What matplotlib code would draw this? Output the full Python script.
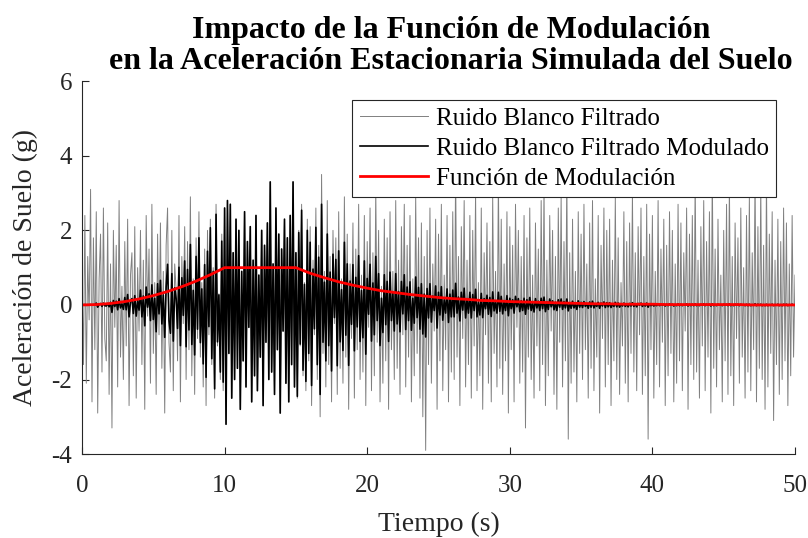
#!/usr/bin/env python3
"""
Filtered white noise vs. modulated noise with the modulation envelope.
"""

import numpy as np
import matplotlib

matplotlib.use("Agg")
import matplotlib.pyplot as plt

# sampling step of the noise records (s)
dt = 0.1

# filtered white noise (g), 10 samples per second
ruido_filtrado = [
    0.9, -1.6, 2.4, -2.1, 1.3, -0.4, 3.1, -2.6, 1.8, -1.2,
    2.5, -2.9, 0.7, 1.9, -1.8, 2.6, -0.9, -1.5, 2.2, -2.4,
    1.1, -3.3, 2.0, -0.6, 1.6, -2.2, 2.8, -1.4, 0.5, -2.0,
    1.7, -1.1, 2.3, -2.7, 0.8, 1.4, -1.9, 2.1, -2.5, 1.0,
    -0.7, 2.0, -1.6, 1.2, -2.8, 2.4, -0.3, 1.5, -2.1, 2.7,
    -1.3, 0.6, -2.4, 1.9, -0.8, 2.2, -1.7, 0.9, -2.9, 1.6,
    2.6, -1.0, -1.8, 2.0, -2.3, 1.1, 0.4, -1.5, 2.4, -2.6,
    1.3, -0.5, 2.1, -2.0, 1.7, -1.2, 2.9, -1.9, 0.7, -2.4,
    1.8, -0.9, 2.5, -1.4, 0.6, -2.2, 1.5, -2.7, 2.0, -0.8,
    2.3, -1.6, 1.0, -2.5, 2.7, -1.1, 0.3, -2.0, 1.9, -2.3,
    2.6, -3.2, 2.8, -1.3, 2.7, -2.5, 1.4, -2.0, 2.3, -1.7,
    2.0, -2.8, 0.9, -1.5, 2.5, -2.2, 1.7, -0.6, 2.1, -2.6,
    1.2, -1.9, 2.4, -2.3, 0.8, -1.4, 2.0, -2.7, 1.6, -1.0,
    2.2, -2.0, 3.3, -1.8, 1.1, -2.4, 2.6, -1.2, 1.9, -2.9,
    1.5, -0.7, 2.3, -2.1, 1.8, -2.6, 2.4, -1.6, 3.3, -2.2,
    1.4, -2.5, 2.0, -1.1, 2.7, -1.9, 0.6, -2.3, 2.3, -1.5,
    2.1, -2.7, 1.2, -0.8, 2.6, -2.0, 1.6, -3.0, 3.5, -1.3,
    0.9, -2.2, 2.8, -1.6, 1.3, -2.6, 2.0, -0.5, 1.8, -2.4,
    2.5, -1.7, 0.7, -2.1, 2.9, -1.4, 1.9, -2.8, 1.1, -0.9,
    2.2, -2.5, 1.5, -1.2, 2.7, -2.0, 0.8, -1.8, 2.4, -2.7,
    1.7, -0.6, 2.6, -2.3, 1.4, -1.9, 3.1, -1.0, 2.0, -2.6,
    0.5, -2.1, 2.3, -1.5, 1.8, -2.8, 2.5, -1.2, 0.9, -2.0,
    2.8, -1.7, 1.2, -2.4, 2.1, -0.8, 2.7, -2.2, 1.6, -1.4,
    2.4, -2.6, 0.7, -1.9, 2.9, -1.3, 1.8, -2.5, 2.2, -3.0,
    1.3, -3.9, 2.0, -1.6, 2.6, -2.1, 1.1, -0.7, 2.3, -2.8,
    1.9, -1.5, 2.7, -2.3, 0.8, -1.2, 2.4, -2.6, 1.6, -1.8,
    2.5, -2.0, 3.6, -1.4, 1.3, -2.7, 2.1, -0.9, 2.8, -2.2,
    1.2, -1.6, 2.4, -2.5, 2.0, -1.1, 3.0, -2.3, 0.6, -1.9,
    2.6, -2.8, 1.4, -0.8, 2.2, -2.1, 1.7, -2.6, 2.9, -1.3,
    0.9, -2.2, 3.4, -1.7, 2.3, -2.4, 1.1, -1.5, 2.5, -2.9,
    2.1, -1.2, 1.6, -2.6, 2.7, -0.6, 2.0, -2.1, 1.3, -1.8,
    2.4, -3.3, 1.8, -1.4, 2.6, -2.0, 0.8, -2.5, 2.2, -1.1,
    1.5, -2.3, 2.8, -1.6, 3.2, -2.7, 1.2, -1.9, 2.4, -0.7,
    2.0, -2.4, 1.3, -2.8, 2.6, -1.0, 2.9, -2.2, 1.7, -1.5,
    3.5, -3.6, 1.4, -2.1, 2.3, -1.8, 0.9, -2.6, 2.5, -1.3,
    1.9, -2.0, 2.7, -1.2, 1.1, -2.5, 2.2, -1.7, 2.8, -2.3,
    0.7, -1.4, 2.4, -2.9, 1.6, -0.9, 2.6, -2.2, 2.0, -1.6,
    2.3, -2.7, 1.2, -1.5, 2.9, -2.0, 1.8, -2.4, 0.6, -1.1,
    2.5, -2.1, 1.7, -2.6, 2.2, -1.3, 3.0, -1.8, 1.4, -2.3,
    2.1, -0.8, 2.6, -2.4, 1.3, -1.9, 2.7, -3.6, 1.9, -1.2,
    2.4, -2.5, 0.9, -1.6, 2.8, -2.2, 1.5, -1.0, 2.3, -2.7,
    1.6, -1.9, 2.5, -1.3, 2.0, -2.6, 1.1, -2.1, 2.7, -1.5,
    2.2, -2.3, 1.4, -0.7, 2.6, -2.8, 1.9, -1.6, 2.4, -2.0,
    3.4, -1.8, 1.2, -2.5, 2.1, -1.1, 2.8, -2.3, 1.7, -1.4,
    2.5, -2.9, 3.6, -1.7, 1.5, -2.2, 2.3, -1.2, 0.8, -2.6,
    2.0, -1.5, 2.7, -2.4, 3.3, -1.9, 1.3, -2.7, 2.2, -0.9,
    1.8, -2.1, 2.6, -1.4, 1.0, -2.5, 2.4, -1.8, 2.9, -2.3,
    1.4, -1.2, 3.5, -2.6, 2.1, -1.7, 3.2, -2.0, 1.6, -2.8,
    3.4, -2.2, 1.9, -1.3, 2.5, -3.1, 1.2, -1.6, 2.3, -2.4,
    1.7, -2.0, 2.6, -1.5, 2.2, -2.7, 1.1, -1.9, 2.4, -1.4,
    0.8,
]

# modulated filtered noise (g)
ruido_modulado = [
    0.0, -0.0, 0.01, -0.01, 0.0, -0.0, 0.01, -0.01, 0.01, -0.0,
    0.05, -0.06, 0.01, 0.04, -0.04, 0.05, -0.02, -0.03, 0.04, -0.05,
    0.07, -0.2, 0.12, -0.04, 0.1, -0.13, 0.17, -0.08, 0.03, -0.12,
    0.2, -0.13, 0.28, -0.32, 0.1, 0.17, -0.23, 0.25, -0.3, 0.12,
    -0.14, 0.4, -0.32, 0.24, -0.56, 0.48, -0.06, 0.3, -0.42, 0.54,
    -0.39, 0.18, -0.72, 0.57, -0.24, 0.66, -0.51, 0.27, -0.87, 0.48,
    1.09, -0.42, -0.76, 0.84, -0.97, 0.46, 0.17, -0.63, 1.01, -1.09,
    0.73, -0.28, 1.18, -1.12, 0.95, -0.67, 1.62, -1.06, 0.39, -1.34,
    1.3, -0.65, 1.8, -1.01, 0.43, -1.58, 1.08, -1.94, 1.44, -0.58,
    2.07, -1.44, 0.9, -2.25, 2.43, -0.99, 0.27, -1.8, 1.71, -2.07,
    2.6, -3.2, 2.8, -1.3, 2.7, -2.5, 1.4, -2.0, 2.3, -1.7,
    2.0, -2.8, 0.9, -1.5, 2.5, -2.2, 1.7, -0.6, 2.1, -2.6,
    1.2, -1.9, 2.4, -2.3, 0.8, -1.4, 2.0, -2.7, 1.6, -1.0,
    2.2, -2.0, 3.3, -1.8, 1.1, -2.4, 2.6, -1.2, 1.9, -2.9,
    1.5, -0.7, 2.3, -2.1, 1.8, -2.6, 2.4, -1.6, 3.3, -2.2,
    1.4, -2.45, 1.94, -1.05, 2.54, -1.75, 0.55, -2.05, 2.0, -1.3,
    1.68, -2.16, 0.96, -0.64, 2.08, -1.6, 1.28, -2.4, 2.7, -1.0,
    0.61, -1.5, 1.9, -1.09, 0.88, -1.77, 1.36, -0.34, 1.22, -1.63,
    1.45, -0.99, 0.41, -1.22, 1.68, -0.81, 1.1, -1.62, 0.64, -0.52,
    1.08, -1.23, 0.74, -0.59, 1.32, -0.98, 0.39, -0.88, 1.18, -1.32,
    0.71, -0.25, 1.09, -0.97, 0.59, -0.8, 1.3, -0.42, 0.84, -1.09,
    0.18, -0.74, 0.81, -0.53, 0.63, -0.98, 0.88, -0.42, 0.32, -0.7,
    0.84, -0.51, 0.36, -0.72, 0.63, -0.24, 0.81, -0.66, 0.48, -0.42,
    0.62, -0.68, 0.18, -0.49, 0.75, -0.34, 0.47, -0.65, 0.57, -0.78,
    0.29, -0.86, 0.44, -0.35, 0.57, -0.46, 0.24, -0.15, 0.51, -0.62,
    0.34, -0.27, 0.49, -0.41, 0.14, -0.22, 0.43, -0.47, 0.29, -0.32,
    0.4, -0.32, 0.58, -0.22, 0.21, -0.43, 0.34, -0.14, 0.45, -0.35,
    0.17, -0.22, 0.34, -0.35, 0.28, -0.15, 0.42, -0.32, 0.08, -0.27,
    0.31, -0.34, 0.17, -0.1, 0.26, -0.25, 0.2, -0.31, 0.35, -0.16,
    0.09, -0.22, 0.34, -0.17, 0.23, -0.24, 0.11, -0.15, 0.25, -0.29,
    0.18, -0.1, 0.14, -0.22, 0.23, -0.05, 0.17, -0.18, 0.11, -0.15,
    0.18, -0.25, 0.14, -0.11, 0.2, -0.15, 0.06, -0.19, 0.17, -0.08,
    0.1, -0.15, 0.18, -0.1, 0.21, -0.18, 0.08, -0.12, 0.16, -0.05,
    0.11, -0.13, 0.07, -0.15, 0.14, -0.06, 0.16, -0.12, 0.09, -0.08,
    0.16, -0.16, 0.06, -0.09, 0.1, -0.08, 0.04, -0.12, 0.11, -0.06,
    0.07, -0.07, 0.09, -0.04, 0.04, -0.09, 0.08, -0.06, 0.1, -0.08,
    0.02, -0.04, 0.07, -0.09, 0.05, -0.03, 0.08, -0.07, 0.06, -0.05,
    0.06, -0.07, 0.03, -0.04, 0.07, -0.05, 0.05, -0.06, 0.02, -0.03,
    0.05, -0.04, 0.03, -0.05, 0.04, -0.03, 0.06, -0.04, 0.03, -0.05,
    0.04, -0.01, 0.05, -0.04, 0.02, -0.03, 0.05, -0.06, 0.03, -0.02,
    0.02, -0.03, 0.01, -0.02, 0.03, -0.02, 0.02, -0.01, 0.02, -0.03,
    0.02, -0.02, 0.03, -0.01, 0.02, -0.03, 0.01, -0.02, 0.03, -0.02,
    0.02, -0.02, 0.01, -0.01, 0.03, -0.03, 0.02, -0.02, 0.02, -0.02,
    0.03, -0.02, 0.01, -0.02, 0.02, -0.01, 0.03, -0.02, 0.02, -0.01,
    0.02, -0.03, 0.03, -0.02, 0.01, -0.02, 0.02, -0.01, 0.01, -0.02,
    0.02, -0.01, 0.02, -0.02, 0.03, -0.02, 0.01, -0.02, 0.02, -0.01,
    0.02, -0.02, 0.02, -0.01, 0.01, -0.02, 0.02, -0.02, 0.02, -0.02,
    0.01, -0.01, 0.03, -0.02, 0.02, -0.01, 0.02, -0.02, 0.01, -0.02,
    0.02, -0.02, 0.01, -0.01, 0.02, -0.02, 0.01, -0.01, 0.02, -0.02,
    0.01, -0.02, 0.02, -0.01, 0.02, -0.02, 0.01, -0.01, 0.02, -0.01,
    0.0,
]

# modulation envelope, one value per second from 0 to 50 s
t_mod = list(range(0, 51))
funcion_mod = [
    0.0, 0.01, 0.04, 0.09, 0.16, 0.25, 0.36, 0.49, 0.64, 0.81,
    1.0, 1.0, 1.0, 1.0, 1.0, 1.0, 0.85, 0.73, 0.62, 0.53,
    0.45, 0.38, 0.33, 0.28, 0.24, 0.20, 0.17, 0.15, 0.12, 0.11,
    0.09, 0.08, 0.07, 0.06, 0.05, 0.04, 0.03, 0.03, 0.02, 0.02,
    0.02, 0.01, 0.01, 0.01, 0.01, 0.01, 0.01, 0.0, 0.0, 0.0,
    0.0,
]


def main():
    plt.rcParams["font.family"] = ["Liberation Serif", "DejaVu Serif"]
    plt.rcParams["axes.unicode_minus"] = False

    t = np.arange(len(ruido_filtrado)) * dt

    fig = plt.figure(figsize=(8.08, 5.38), dpi=100)
    ax = fig.add_axes([0.1015, 0.156, 0.8824, 0.693])

    ax.plot(t, ruido_filtrado, color="#808080", linewidth=0.7,
            label="Ruido Blanco Filtrado")
    ax.plot(t, ruido_modulado, color="black", linewidth=1.2,
            label="Ruido Blanco Filtrado Modulado")
    ax.plot(t_mod, funcion_mod, color="#ff0000", linewidth=2.0,
            label="Función de Modulación")

    ax.set_xlim(0, 50)
    ax.set_ylim(-4, 6)
    ax.set_xticks([0, 10, 20, 30, 40, 50])
    ax.set_yticks([-4, -2, 0, 2, 4, 6])

    # MATLAB-like box off look
    for side in ("top", "right"):
        ax.spines[side].set_visible(False)
    for side in ("left", "bottom"):
        ax.spines[side].set_color("#262626")
        ax.spines[side].set_linewidth(0.8)
    ax.tick_params(direction="in", length=5, width=0.8, colors="#262626",
                   labelsize=18, labelcolor="#262626")
    ax.tick_params(axis="x", pad=15)
    ax.tick_params(axis="y", pad=7)

    ax.set_xlabel("Tiempo (s)", fontsize=20, color="#262626", labelpad=11)
    ax.set_ylabel("Aceleración de Suelo (g)", fontsize=20, color="#262626",
                  labelpad=10)
    ax.set_title("Impacto de la Función de Modulación\n"
                 "en la Aceleración Estacionaria Simulada del Suelo",
                 fontsize=23, fontweight="bold", linespacing=1.1, pad=9,
                 x=0.5175)

    leg = ax.legend(loc="upper right", bbox_to_anchor=(0.974, 0.95),
                    fontsize=18, frameon=True, fancybox=False,
                    handlelength=2.75, borderpad=0.3, labelspacing=0.3,
                    handletextpad=0.3, borderaxespad=0.0)
    leg.get_frame().set_edgecolor("#262626")
    leg.get_frame().set_linewidth(0.8)
    leg.get_frame().set_alpha(1.0)

    fig.savefig("out.png", dpi=100)


if __name__ == "__main__":
    main()
